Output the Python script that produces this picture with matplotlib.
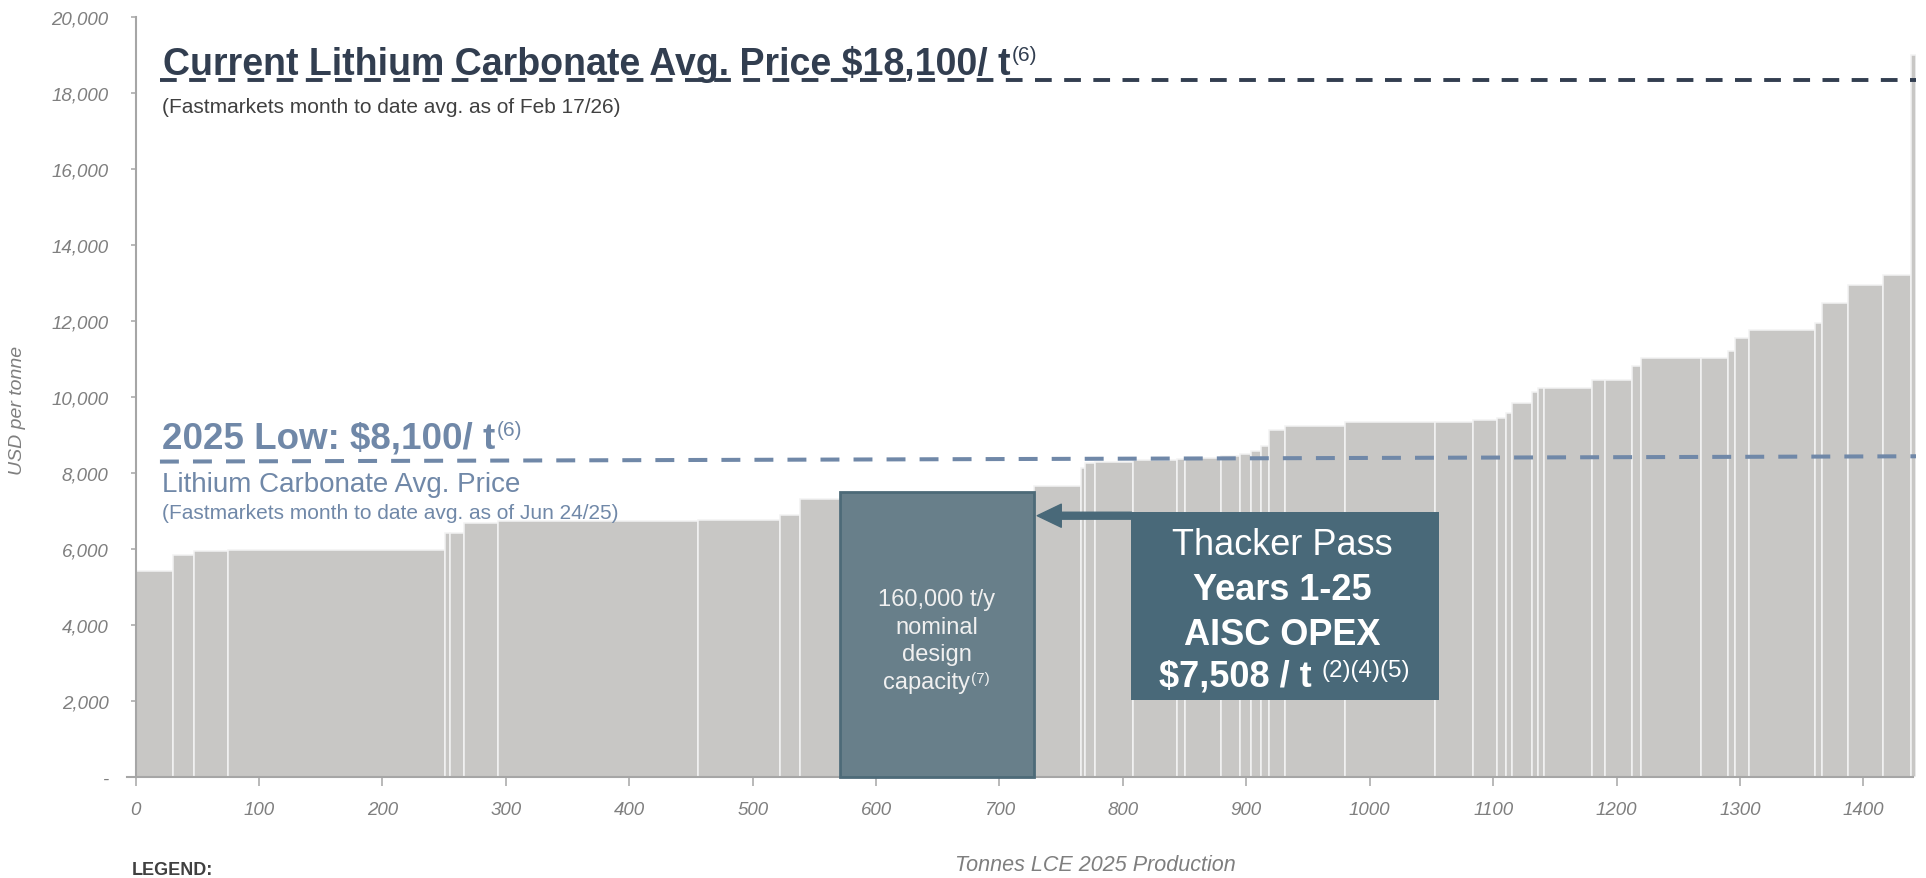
import numpy as np
import matplotlib
matplotlib.use('Agg')
import matplotlib.pyplot as plt
from matplotlib import font_manager as fm

plt.rcParams['font.family'] = ['Liberation Sans', 'DejaVu Sans']

# supply segments, left to right: capacity (kt LCE) and AISC (USD/t)
widths = [30, 17.5, 27.5, 175.5, 4.5, 11, 28, 162, 66.5, 15.5, 32.5,
          157.5,
          38.3, 2.9, 8.3, 30.5, 35.7, 6.3, 29.5, 15.3, 9, 8, 6.4, 12.8,
          49.1, 72.9, 31.1, 18.9, 7.2, 5.1, 16.2, 4.9, 4.8, 38.8, 11, 21.4,
          7.3, 48.9, 21.4, 6, 11, 54, 5.3, 21, 29, 22.7, 3.5]
costs = [5410, 5840, 5940, 5980, 6410, 6410, 6685, 6725, 6772, 6886, 7316,
         7508,
         7667, 8123, 8254, 8298, 8351, 8360, 8386, 8456, 8500, 8570, 8719, 9135,
         9246, 9351, 9351, 9390, 9455, 9592, 9834, 10137, 10231, 10250, 10460, 10460,
         10821, 11034, 11034, 11200, 11560, 11771, 11937, 12463, 12945, 13203, 19000]
thacker_idx = 11

# price reference lines
price_x = [19.7, 1443]
current_price = [18330, 18330]
low_2025 = [8300, 8440]

xticks = list(range(0, 1401, 100))
yticks = list(range(0, 20001, 2000))
ytick_labels = ['-'] + [f'{v:,}' for v in yticks[1:]]

# tick labels use a narrow face when there is one
try:
    fm.findfont(fm.FontProperties(family='Liberation Sans Narrow'), fallback_to_default=False)
    tick_font, tick_size = 'Liberation Sans Narrow', 16
except ValueError:
    tick_font, tick_size = 'Liberation Sans', 13.5

lefts = np.concatenate([[0], np.cumsum(widths)[:-1]])

fig = plt.figure(figsize=(19.26, 8.79), dpi=100)
ax = fig.add_axes([127 / 1926, 101 / 879, (1916.4 - 127) / 1926, 760 / 879])

gray_mask = np.arange(len(widths)) != thacker_idx
ax.bar(lefts[gray_mask], np.array(costs)[gray_mask], width=np.array(widths)[gray_mask],
       align='edge', color='#C8C7C5', edgecolor='#F3F3F3', linewidth=1.1, zorder=2)
ax.bar(lefts[thacker_idx], costs[thacker_idx], width=widths[thacker_idx], align='edge',
       color='#687F8A', edgecolor='#4D6A78', linewidth=2, zorder=4, clip_on=False)

ax.plot(price_x, current_price, color='#323E50', lw=2.8, dashes=(4.3, 3.2), zorder=3)
ax.plot(price_x, low_2025, color='#7088A8', lw=2.9, dashes=(4.7, 3.5), zorder=3)

ax.set_xlim(-7, 1443)
ax.set_ylim(0, 20000)
ax.spines['top'].set_visible(False)
ax.spines['right'].set_visible(False)
ax.spines['left'].set_position(('data', 0))
for s in ['left', 'bottom']:
    ax.spines[s].set_color('#A6A6A6')
    ax.spines[s].set_linewidth(1.5)
ax.spines['bottom'].set_bounds(-7, 1440)

ax.set_xticks(xticks)
ax.set_xticklabels([str(v) for v in xticks])
ax.set_yticks(yticks)
ax.set_yticklabels(ytick_labels)
ax.tick_params(axis='x', direction='inout', length=13, width=1.1, color='#A6A6A6',
               pad=11, labelcolor='#7F7F7F')
ax.tick_params(axis='y', direction='out', length=3.5, width=1.1, color='#A6A6A6',
               pad=16, labelcolor='#7F7F7F')
for lab in ax.get_xticklabels() + ax.get_yticklabels():
    lab.set_fontstyle('italic')
    lab.set_family([tick_font, 'Liberation Sans'])
    lab.set_fontsize(tick_size)


def sup(txt, s, size, color, dx=0.0):
    return ax.annotate(s, xy=(1, 1), xycoords=txt, xytext=(dx, 0),
                       textcoords='offset points', ha='left', va='top',
                       fontsize=size, color=color, zorder=6)


# price annotations
t = ax.text(22.4, 18500, 'Current Lithium Carbonate Avg. Price $18,100/ t',
            fontsize=27, fontweight='bold', color='#323E50', va='baseline', zorder=6)
sup(t, '(6)', 15, '#323E50', 1)
ax.text(21.1, 17492, '(Fastmarkets month to date avg. as of Feb 17/26)',
        fontsize=15, color='#404040', va='baseline', zorder=6)

t = ax.text(21.1, 8684, '2025 Low: $8,100/ t', fontsize=26.5, fontweight='bold',
            color='#7088A8', va='baseline', zorder=6)
sup(t, '(6)', 15, '#7088A8', 1)
ax.text(21.1, 7526, 'Lithium Carbonate Avg. Price', fontsize=20, color='#7088A8',
        va='baseline', zorder=6)
ax.text(21.1, 6816, '(Fastmarkets month to date avg. as of Jun 24/25)', fontsize=15,
        color='#7088A8', va='baseline', zorder=6)

# highlighted Thacker Pass block
box_c = '#F0F0F0'
ax.text(649, 4530, '160,000 t/y', fontsize=17, color=box_c, ha='center', va='baseline', zorder=6)
ax.text(649, 3800, 'nominal', fontsize=17, color=box_c, ha='center', va='baseline', zorder=6)
ax.text(649, 3070, 'design', fontsize=17, color=box_c, ha='center', va='baseline', zorder=6)
t = ax.text(641, 2330, 'capacity', fontsize=17, color=box_c, ha='center', va='baseline', zorder=6)
sup(t, '(7)', 11, box_c, 0.5)

# callout box
callout = '#496979'
ax.add_patch(plt.Rectangle((806.5, 2034), 249.3, 4932, facecolor=callout,
                           edgecolor='none', zorder=5))
ax.annotate('', xy=(730.6, 6876), xytext=(807, 6876),
            arrowprops=dict(arrowstyle='simple,head_length=17.3,head_width=16.6,tail_width=5',
                            mutation_scale=1, color=callout, shrinkA=0, shrinkB=0),
            zorder=5)
ax.text(929.5, 5868, 'Thacker Pass', fontsize=26, color='white', ha='center',
        va='baseline', zorder=6)
ax.text(929.5, 4684, 'Years 1-25', fontsize=26, fontweight='bold', color='white',
        ha='center', va='baseline', zorder=6)
ax.text(929.5, 3500, 'AISC OPEX', fontsize=26, fontweight='bold', color='white',
        ha='center', va='baseline', zorder=6)
t = ax.text(891.4, 2403, '$7,508 / t', fontsize=26, fontweight='bold', color='white',
            ha='center', va='baseline', zorder=6)
sup(t, '(2)(4)(5)', 17.5, 'white', 7)

# axis titles
fig.text(18 / 1926, 1 - 410 / 879, 'USD per tonne', rotation=90, fontsize=14,
         fontstyle='italic', color='#7F7F7F', ha='center', va='center')
fig.text(1095 / 1926, 1 - 866 / 879, 'Tonnes LCE 2025 Production', fontsize=15.5,
         fontstyle='italic', color='#7F7F7F', ha='center', va='center')
fig.text(131.6 / 1926, 1 - 862 / 879, 'LEGEND:', fontsize=13, fontweight='bold',
         color='#404040', ha='left', va='top')

fig.savefig('out.png', dpi=100)
